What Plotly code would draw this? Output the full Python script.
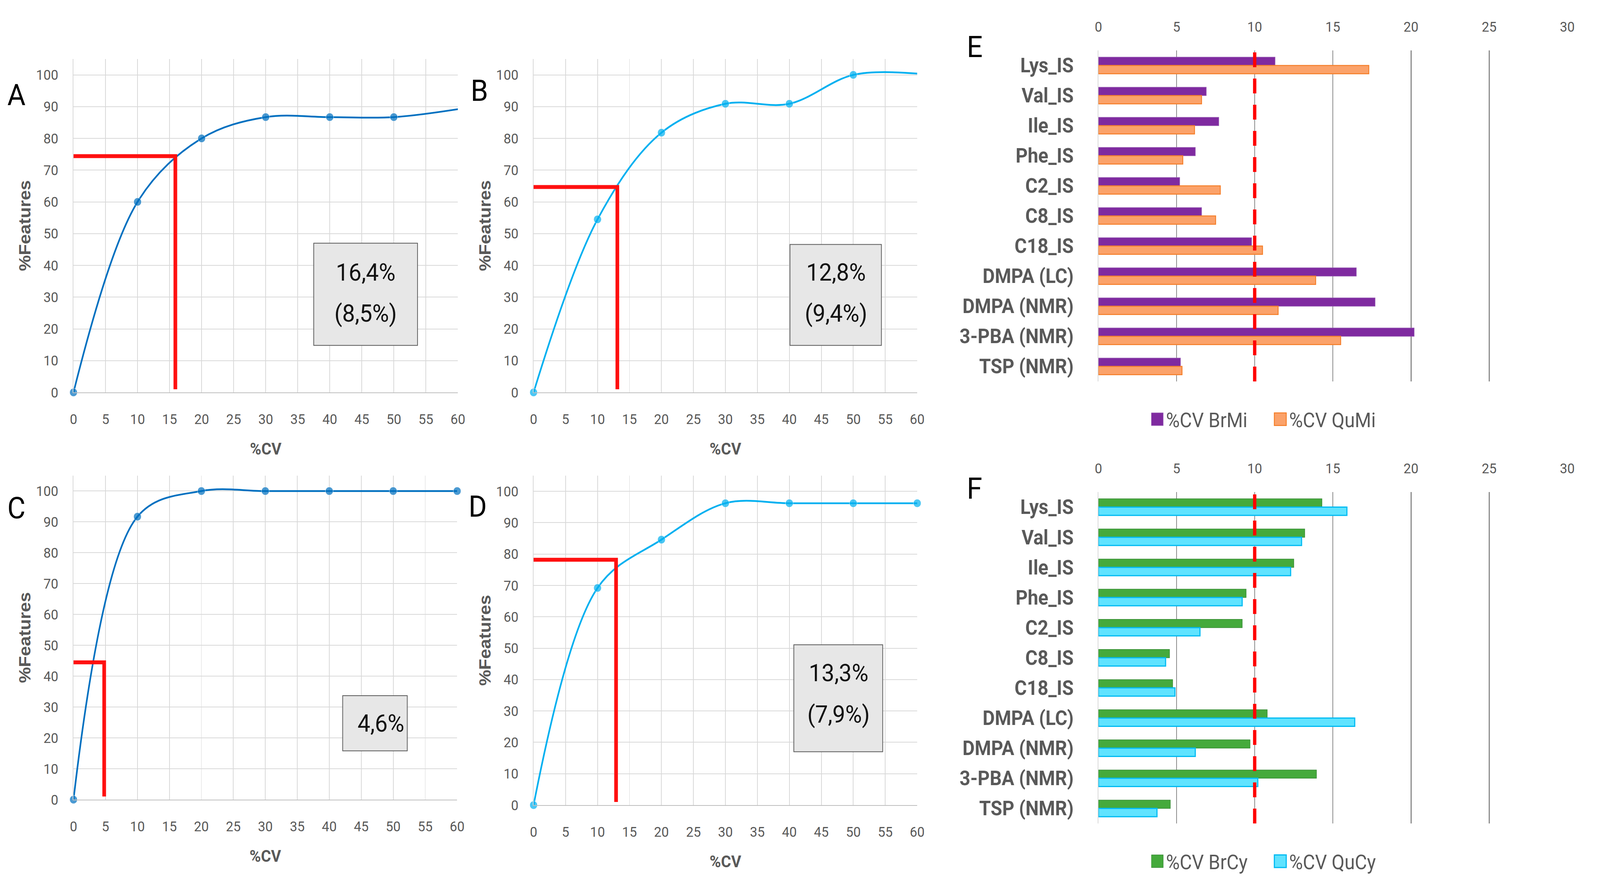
import plotly.graph_objects as go

# ---------------- data ----------------
cv_levels = [0, 10, 20, 30, 40, 50, 60]
features_A = [0, 60.0, 80.0, 86.7, 86.7, 86.7, 89.2]
features_B = [0, 54.5, 81.8, 90.9, 90.9, 100.0, 100.4]
features_C = [0, 91.7, 100.0, 100.0, 100.0, 100.0, 100.0]
features_D = [0, 69.2, 84.6, 96.2, 96.2, 96.2, 96.2]

# red guide lines: (%CV threshold, %Features reached)
guide_A = [15.9, 74.4]
guide_B = [13.1, 64.7]
guide_C = [4.8, 44.5]
guide_D = [12.9, 78.2]

box_A = ["16,4%", "(8,5%)"]
box_B = ["12,8%", "(9,4%)"]
box_C = ["4,6%"]
box_D = ["13,3%", "(7,9%)"]

compounds = ["Lys_IS", "Val_IS", "Ile_IS", "Phe_IS", "C2_IS", "C8_IS", "C18_IS",
             "DMPA (LC)", "DMPA (NMR)", "3-PBA (NMR)", "TSP (NMR)"]
cv_BrMi = [11.3, 6.9, 7.7, 6.2, 5.2, 6.6, 9.8, 16.5, 17.7, 20.2, 5.25]
cv_QuMi = [17.3, 6.6, 6.15, 5.4, 7.8, 7.5, 10.5, 13.9, 11.5, 15.5, 5.35]
cv_BrCy = [14.3, 13.2, 12.5, 9.45, 9.2, 4.55, 4.75, 10.8, 9.7, 13.95, 4.6]
cv_QuCy = [15.9, 13.0, 12.3, 9.2, 6.5, 4.3, 4.9, 16.4, 6.2, 10.2, 3.75]
cv_threshold = 10

# ---------------- styling ----------------
W, H = 4354, 2244
FONT = "Roboto, Liberation Sans, sans-serif"
WIDE = "Liberation Sans, Arial, sans-serif"
GREY = "#595959"


def dx(a, b):
    return [a / W, b / W]


def dy(top, bottom):
    return [1 - bottom / H, 1 - top / H]


panels = [
    dict(name="A", y=features_A, guide=guide_A, box=box_A, color="#0070C0", last_marker=False,
         xd=dx(200, 1246), yd=dy(151, 1004), boxr=[37.5, 53.7, 14.8, 47.0], lines_y=[37.9, 24.9],
         tx=45.6, letter=(45, 243)),
    dict(name="B", y=features_B, guide=guide_B, box=box_B, color="#00B0F0", last_marker=False,
         xd=dx(1452, 2496), yd=dy(151, 1004), boxr=[40.1, 54.4, 14.8, 46.6], lines_y=[37.9, 24.9],
         tx=47.3, letter=(1304, 232)),
    dict(name="C", y=features_C, guide=guide_C, box=box_C, color="#0070C0", last_marker=True,
         xd=dx(200, 1244), yd=dy(1217, 2046), boxr=[42.1, 52.2, 15.8, 33.7], lines_y=[24.8],
         tx=48.1, letter=(44, 1300)),
    dict(name="D", y=features_D, guide=guide_D, box=box_D, color="#00B0F0", last_marker=True,
         xd=dx(1452, 2496), yd=dy(1217, 2060), boxr=[40.7, 54.6, 17.0, 51.1], lines_y=[42.2, 29.0],
         tx=47.7, letter=(1300, 1296)),
]

fig = go.Figure()
layout = dict(
    width=W, height=H, margin=dict(l=0, r=0, t=0, b=0),
    paper_bgcolor="white", plot_bgcolor="white",
    font=dict(family=FONT, color=GREY),
    showlegend=True,
    shapes=[], annotations=[],
    bargap=0.45, bargroupgap=0.0, barmode="group",
)

for i, p in enumerate(panels, start=1):
    xa = "x" if i == 1 else f"x{i}"
    ya = "y" if i == 1 else f"y{i}"
    sizes = [21] * len(cv_levels)
    if not p["last_marker"]:
        sizes[-1] = 0
    fig.add_trace(go.Scatter(
        x=cv_levels, y=p["y"], mode="lines+markers", xaxis=xa, yaxis=ya,
        line=dict(color=p["color"], width=4.5, shape="spline", smoothing=1.0),
        marker=dict(color=p["color"], size=sizes),
        showlegend=False, name=f"Panel {p['name']}", cliponaxis=False,
    ))
    gx, gy = p["guide"]
    fig.add_trace(go.Scatter(
        x=[0, gx, gx], y=[gy, gy, 1.0], mode="lines", xaxis=xa, yaxis=ya,
        line=dict(color="#FF1010", width=10), showlegend=False,
        name=f"Threshold {p['name']}",
    ))
    layout[f"xaxis{'' if i == 1 else i}"] = dict(
        domain=p["xd"], anchor=ya, range=[0, 60], tick0=0, dtick=5,
        showgrid=True, gridcolor="#D9D9D9", gridwidth=2, zeroline=False,
        showline=True, linecolor="#BFBFBF", linewidth=2, ticks="",
        ticklabelstandoff=36, tickfont=dict(size=36, color=GREY, family=FONT),
        title=dict(text="%CV", standoff=40,
                   font=dict(size=42, color=GREY, family=FONT, weight="bold")),
        automargin=False, fixedrange=True,
    )
    layout[f"yaxis{'' if i == 1 else i}"] = dict(
        domain=p["yd"], anchor=xa, range=[0, 105],
        tickvals=list(range(0, 101, 10)),
        showgrid=True, gridcolor="#D9D9D9", gridwidth=2, zeroline=False,
        showline=True, linecolor="#D9D9D9", linewidth=2, ticks="",
        ticklabelstandoff=32, tickfont=dict(size=36, color=GREY, family=FONT),
        title=dict(text="%Features", standoff=0,
                   font=dict(size=46, color=GREY, family=WIDE, weight="bold")),
        automargin=False, fixedrange=True,
    )
    x0, x1, y0, y1 = p["boxr"]
    layout["shapes"].append(dict(
        type="rect", xref=xa, yref=ya, x0=x0, x1=x1, y0=y0, y1=y1,
        fillcolor="#E7E7E7", line=dict(color="#595959", width=2), layer="above",
    ))
    for txt, ly in zip(p["box"], p["lines_y"]):
        layout["annotations"].append(dict(
            xref=xa, yref=ya, x=p["tx"], y=ly, text=txt, showarrow=False,
            font=dict(size=62, color="#111111", family=FONT),
            xanchor="center", yanchor="middle",
        ))
    lx, lyy = p["letter"]
    layout["annotations"].append(dict(
        xref="paper", yref="paper", x=lx / W, y=1 - lyy / H, text=p["name"],
        showarrow=False, font=dict(size=76, color="black", family=FONT),
        xanchor="center", yanchor="middle",
    ))

# ---------------- bar panels ----------------
bar_panels = [
    dict(name="E", idx=5, s1=("%CV BrMi", cv_BrMi, "#7F2AA0", "#9254B0", 1.5),
         s2=("%CV QuMi", cv_QuMi, "#FBA26A", "#F57F2A", 2.5),
         yd=dy(129, 976), legend="legend", leg_y=1 - 1073 / H, letter=(2652, 120)),
    dict(name="F", idx=6, s1=("%CV BrCy", cv_BrCy, "#45AA3C", "#368A33", 1.5),
         s2=("%CV QuCy", cv_QuCy, "#5FE3FF", "#00BAF2", 3),
         yd=dy(1259, 2107), legend="legend2", leg_y=1 - 2204 / H, letter=(2652, 1250)),
]
for bp in bar_panels:
    k = bp["idx"]
    xa, ya = f"x{k}", f"y{k}"
    for nm, vals, fill, edge, lw in (bp["s1"], bp["s2"]):
        fig.add_trace(go.Bar(
            x=vals, y=compounds, orientation="h", name=nm, xaxis=xa, yaxis=ya,
            marker=dict(color=fill, line=dict(color=edge, width=lw)),
            legend=bp["legend"], offsetgroup=nm,
        ))
    layout[f"xaxis{k}"] = dict(
        domain=dx(2989, 4265), anchor=ya, side="top", range=[0, 30], tick0=0, dtick=5,
        showgrid=True, gridcolor="#8C8C8C", gridwidth=2.5, zeroline=False,
        showline=False, ticks="", ticklabelstandoff=40,
        tickfont=dict(size=36, color=GREY, family=FONT),
        automargin=False, fixedrange=True,
    )
    layout[f"yaxis{k}"] = dict(
        domain=bp["yd"], anchor=xa, type="category", categoryorder="array",
        categoryarray=compounds, autorange="reversed", showgrid=False,
        showline=True, linecolor="#D9D9D9", linewidth=2, ticks="",
        ticklabelstandoff=55,
        tickfont=dict(size=51, color=GREY, family=FONT, weight="bold"),
        automargin=False, fixedrange=True,
    )
    layout["shapes"].append(dict(
        type="line", xref=xa, yref=f"{ya} domain", x0=cv_threshold, x1=cv_threshold,
        y0=0, y1=1, line=dict(color="#FF0000", width=9, dash="38px,29px"), layer="above",
    ))
    layout[bp["legend"]] = dict(
        orientation="h", x=3468 / W, y=bp["leg_y"], xanchor="center", yanchor="middle",
        font=dict(size=51, color=GREY, family=FONT), bgcolor="rgba(0,0,0,0)",
        traceorder="normal", entrywidth=290,
    )
    lx, lyy = bp["letter"]
    layout["annotations"].append(dict(
        xref="paper", yref="paper", x=lx / W, y=1 - lyy / H, text=bp["name"],
        showarrow=False, font=dict(size=76, color="black", family=FONT),
        xanchor="center", yanchor="middle",
    ))

fig.update_layout(**layout)

# fit the fixed-size figure exactly into the viewport, and enlarge the
# legend swatches to the size used in the original figure
fit_script = """
(function(){
  var gd = document.getElementById('{plot_id}');
  document.documentElement.style.margin = '0';
  document.body.style.margin = '0';
  document.documentElement.style.overflow = 'hidden';
  document.body.style.overflow = 'hidden';
  function fit(){
    var sx = window.innerWidth / %d, sy = window.innerHeight / %d;
    gd.style.transformOrigin = '0 0';
    gd.style.transform = 'scale(' + sx + ',' + sy + ')';
  }
  function swatches(){
    gd.querySelectorAll('g.legendpoints path').forEach(function(p){
      p.setAttribute('transform', 'translate(16,0) scale(2.7)');
      p.style.vectorEffect = 'non-scaling-stroke';
    });
  }
  fit();
  swatches();
  window.addEventListener('resize', fit);
  gd.on && gd.on('plotly_afterplot', swatches);
})();
""" % (W, H)

fig.write_html("out.html", post_script=fit_script,
               config={"displayModeBar": False})
